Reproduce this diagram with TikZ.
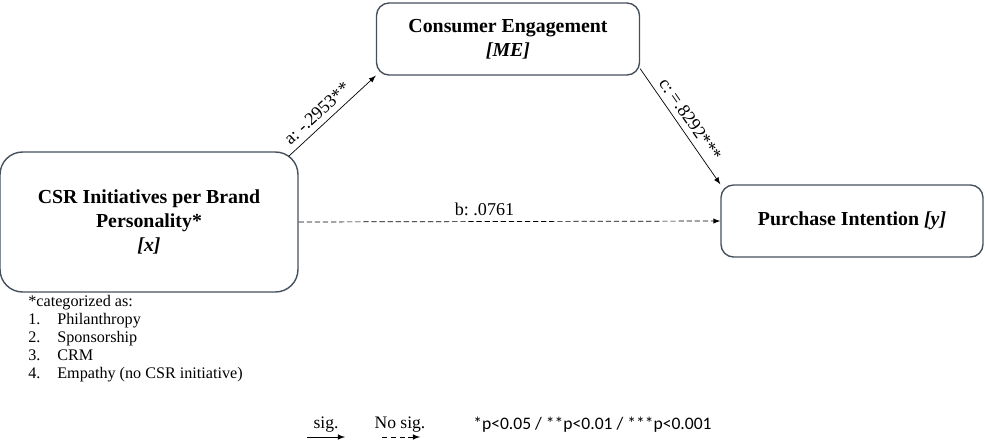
\documentclass[tikz,border=0pt]{standalone}
\usepackage{fontspec}
\setmainfont{Liberation Serif}
\newfontfamily\legendfont{Carlito}
\usetikzlibrary{positioning,arrows.meta,arrows}
\definecolor{boxgray}{RGB}{70,80,92}
\tikzset{
varbox/.style={
  draw=boxgray,
  line width=0.8pt,
  rounded corners=0.25cm,
  align=center,
  font=\fontsize{11.3}{13.6}\selectfont\bfseries,
  inner sep=0pt
  },
path/.style={
  ->,
  thin,
  font=\fontsize{10.3}{12}\selectfont
  }
}

\begin{document}
\begin{tikzpicture}[>=latex,x=0.02cm,y=-0.02cm]
\useasboundingbox (0,0) rectangle (985,443);

% variables
\node[varbox,rounded corners=0.45cm,
    minimum width=5.96cm,minimum height=2.8cm]
at (149,222)
(csr)
{CSR Initiatives per Brand\\ Personality*\\ \textit{[x]}};

\node[varbox,minimum width=5.26cm,minimum height=1.44cm]
at (508,39)
(ce)
{Consumer Engagement\\ \textit{[ME]}};

\node[varbox,minimum width=5.24cm,minimum height=1.44cm]
at (852,221)
(pi)
{Purchase Intention \textit{[y]}};

% paths
\draw[path]
  ([xshift=-0.2cm,yshift=-0.1cm]csr.north east) -- (ce.south west)
  node[pos=0.42,sloped,above] {a:\ -.2953**};
\draw[path]
  ([yshift=0.14cm]ce.south east) -- (pi.north west)
  node[midway,sloped,above] {c:\ =.8292***};
\draw[path,dash pattern=on 3pt off 1.6pt]
  (csr.east) -- (pi.west)
  node[midway,above,xshift=-0.5cm] {b:\ .0761};

% footnote
\node[anchor=north west,align=left,inner sep=0pt,
    font=\fontsize{9.2}{10.2}\selectfont]
at (28,295)
(note)
{*categorized as:\\
\makebox[0.58cm][l]{1.}Philanthropy\\
\makebox[0.58cm][l]{2.}Sponsorship\\
\makebox[0.58cm][l]{3.}CRM\\
\makebox[0.58cm][l]{4.}Empathy (no CSR initiative)};

% legend
\node[font=\fontsize{10}{11}\selectfont] at (326,425) (sigtxt) {sig.};
\node[font=\fontsize{10}{11}\selectfont] at (400,425) (nosigtxt) {No sig.};
\node[font=\legendfont\fontsize{10}{11}\selectfont,anchor=west,inner sep=0pt]
at (473,425) (pvals) {*p<0.05 / **p<0.01 / ***p<0.001};
\coordinate (sigA) at (307,437);
\coordinate (sigB) at (345,437);
\coordinate (nosigA) at (382,437);
\coordinate (nosigB) at (420,437);
\draw[->,thin] (sigA) -- (sigB);
\draw[->,thin,densely dashed] (nosigA) -- (nosigB);
\end{tikzpicture}
\end{document}
